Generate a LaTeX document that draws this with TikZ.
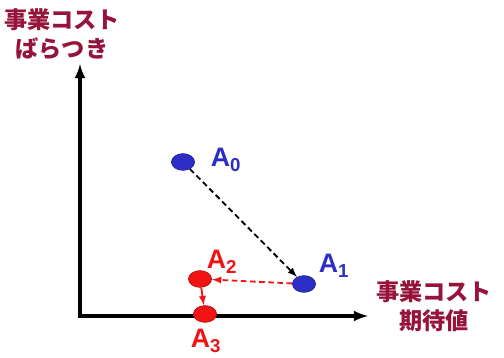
\documentclass[tikz,border=0pt]{standalone}
\usepackage{fontspec}
\setmainfont{Liberation Sans}
\newfontfamily\jpfont{Noto Sans CJK JP}
\usepackage{tikz}
\usetikzlibrary{positioning,shapes.geometric}
\definecolor{axislabel}{RGB}{150,20,60}
\definecolor{ptblue}{RGB}{45,45,200}
\definecolor{ptred}{RGB}{240,20,20}

\begin{document}
\begin{tikzpicture}[>=latex,
    pt/.style={draw,ellipse,minimum width=0.58cm,minimum height=0.42cm,inner sep=0pt},
    lbl/.style={font=\fontsize{19}{19}\selectfont\bfseries},
    mv/.style={->,line width=1.3pt,dash pattern=on 4pt off 2.5pt},
    axtxt/.style={font=\jpfont\fontsize{16.5}{21}\selectfont\bfseries,text=axislabel,align=center}]
        \useasboundingbox (0,0) rectangle (12.6,8.95);
        \coordinate (o) at (2.0,1.05);
        \coordinate (ytop) at (2.0,7.35);
        \coordinate (xend) at (9.2,1.05);
        \draw[->,line width=2.4pt] (o) -- (ytop);
        \draw[->,line width=2.4pt] (1.95,1.05) -- (xend);
        \node[axtxt] (yl) at (1.55,8.1) {事業コスト\\ばらつき};
        \node[axtxt] (xl) at (10.85,1.3) {事業コスト\\期待値};
        \node[pt,fill=ptblue,draw=ptblue!70!black] (a0) at (4.575,4.9) {};
        \node[pt,fill=ptblue,draw=ptblue!70!black] (a1) at (7.6,1.85) {};
        \node[pt,fill=ptred,draw=ptred!70!black] (a2) at (5.0,1.975) {};
        \node[pt,fill=ptred,draw=ptred!70!black] (a3) at (5.125,1.1) {};
        \node[lbl,text=ptblue] (l0) at (5.65,4.95) {A\textsubscript{0}};
        \node[lbl,text=ptblue] (l1) at (8.35,2.3) {A\textsubscript{1}};
        \node[lbl,text=ptred] (l2) at (5.55,2.4) {A\textsubscript{2}};
        \node[lbl,text=ptred] (l3) at (5.15,0.42) {A\textsubscript{3}};
        \draw[mv] (a0) -- (a1);
        \draw[mv,ptred] (a1) -- (a2);
        \draw[->,line width=1.3pt,ptred] (a2) -- (a3);
      \end{tikzpicture}
\end{document}
